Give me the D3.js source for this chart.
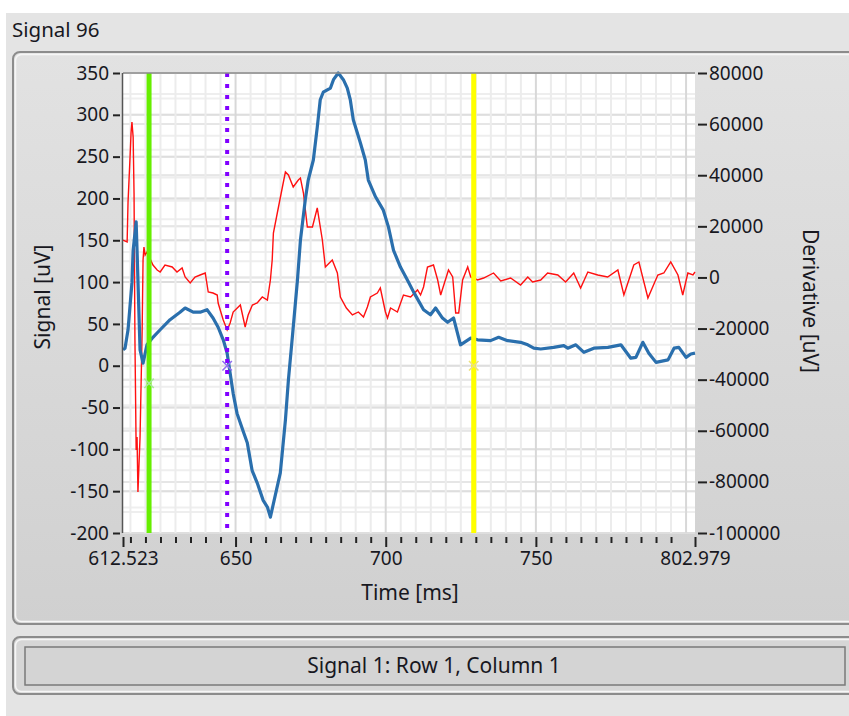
<!DOCTYPE html>
<html>
<head>
<meta charset="utf-8">
<script src="https://cdn.jsdelivr.net/npm/d3@7"></script>
<style>
  body { margin: 0; background: #fff; }
  text { font-family: "Noto Sans", sans-serif; fill: #18181f; }
</style>
</head>
<body>
<svg id="chartSVG" width="849" height="716"></svg>
<script>
// signal trace (blue), left axis
const signalTime = [612.523, 613.2, 614.2, 615.5, 615.9, 616.9, 617.2, 618.2, 619.2, 620.5, 622.5, 624.9, 628.2,
  631.5, 633.2, 635.9, 638.2, 640.5, 642.5, 644.2, 645.9, 647.2, 648.2, 649.2, 650.5, 652.6, 653.9, 655.5,
  657.2, 659.2, 660.6, 661.6, 664.9, 666.6, 667.6, 668.9, 670.6, 671.6, 673.2, 674.2, 675.9, 677.2, 678.2,
  679.2, 681.6, 682.6, 684.2, 685.9, 687.2, 688.2, 689.2, 691.6, 693.2, 694.2, 696.6, 699.2, 700.9, 702.6,
  704.9, 707.3, 709.3, 712.6, 714.9, 716.6, 718.9, 720.6, 722.6, 724.9, 728.3, 730.6, 734.9, 737.6, 740.6,
  744.9, 747.3, 749.3, 751.6, 755.9, 759.3, 760.6, 763.3, 766.0, 769.3, 774.0, 778.3, 781.6, 783.3, 785.6,
  787.6, 790.0, 794.0, 796.0, 797.6, 800.0, 801.6, 802.979];
const signalValues = [19, 21, 43, 99, 138, 172, 138, 19, 3, 25, 34, 43, 55,
  64, 69, 64, 64, 67, 57, 46, 31, 15, -9, -33, -57, -79, -92, -125,
  -140, -161, -169, -181, -128, -65, -17, 34, 102, 150, 198, 222, 246, 285, 318,
  327, 332, 342, 350, 342, 332, 318, 294, 266, 246, 222, 202, 186, 166, 138,
  118, 102, 88, 67, 61, 69, 57, 52, 57, 25, 33, 31, 30, 34, 30,
  28, 25, 21, 20, 22, 24, 21, 25, 16, 21, 22, 25, 9, 10, 28,
  15, 4, 7, 21, 22, 10, 14, 15];

// derivative trace (red), right axis
const derivTime = [612.523, 613.9, 614.2, 614.9, 615.2, 615.5, 615.9, 616.2, 616.5, 616.9, 617.2, 617.5, 618.2,
  618.9, 619.2, 619.5, 619.9, 620.5, 622.5, 623.9, 624.9, 626.5, 628.9, 630.5, 632.2, 633.2, 634.9, 636.5,
  638.2, 639.9, 640.9, 642.5, 643.9, 644.2, 645.9, 647.2, 648.2, 649.2, 651.6, 653.2, 654.2, 655.6, 657.2,
  658.9, 660.6, 661.6, 662.2, 662.6, 663.9, 665.6, 666.6, 667.6, 669.2, 670.9, 671.6, 672.6, 673.9, 675.6,
  677.2, 678.9, 679.9, 682.2, 683.9, 684.9, 686.9, 688.9, 690.9, 692.6, 693.9, 694.9, 697.2, 698.2, 699.9,
  700.6, 701.6, 703.9, 705.9, 708.3, 710.6, 711.6, 712.6, 713.9, 715.9, 717.3, 718.3, 720.9, 722.3, 723.3,
  724.3, 725.6, 727.3, 728.3, 730.6, 732.6, 735.9, 738.3, 741.6, 744.9, 747.3, 748.9, 751.6, 753.9, 757.3,
  759.9, 762.6, 764.9, 767.3, 770.6, 773.9, 777.3, 779.3, 782.6, 784.3, 787.3, 790.6, 792.6, 794.9, 797.3,
  798.9, 800.6, 802.3, 802.979];
const derivativeValues = [14650, 13870, 29520, 47900, 56520, 60830, 54960, 33040, -24480, -67520, -62430, -83950, -62430,
  -20560, 6830, 11910, 8780, 9960, 4870, 2915, 2130, 4870, 4090, 2130, 3700, 180, -2170, 180,
  960, 1740, -5695, -6090, -6870, -10000, -16650, -20560, -17830, -13520, -10780, -19390, -14690, -10780, -10000,
  -7650, -8830, -1000, 6830, 17390, 25220, 35390, 41260, 40090, 35390, 38130, 38910, 33040, 19740, 19740,
  27180, 14650, 4090, 6830, 1740, -7650, -11960, -14690, -13520, -15480, -11560, -7650, -6090, -4130, -13520,
  -15870, -11960, -13520, -6870, -7650, -4910, -6870, -3740, 4090, 4870, -1000, -6870, 2915, 180, -13910,
  -13910, -1000, 4090, 180, -1000, -220, 1740, -1390, -220, -2960, 180, -1780, -1000, 1740, 960,
  -1780, 1740, -4130, 2130, 960, 180, 2915, -6870, 4870, 6045, -8040, 960, 1740, 6045, 960,
  -6870, 1740, 960, 2130];

// cursors
const cursorTimes = [621.2, 647.2, 729.3];
const cursorSignal = [-21, 0, 0];
const cursorColors = ["#66ee00", "#8000ff", "#ffff00"];
const cursorMarkColors = ["#a8e898", "#9070f0", "#ece080"];

// ticks
const leftTicks = d3.range(-200, 351, 50);
const rightTicks = d3.range(-100000, 80001, 20000);
const timeTicks = [612.523, 650, 700, 750, 802.979];
const timeMinorTicks = d3.range(615, 801, 5);

const plot = { left: 123, right: 695, top: 73, bottom: 533 };

const svg = d3.select("#chartSVG");

// gradients
const defs = svg.append("defs");
const grad = defs.append("linearGradient").attr("id", "panelGrad")
  .attr("x1", 0).attr("y1", 0).attr("x2", 0).attr("y2", 1);
grad.append("stop").attr("offset", "0%").attr("stop-color", "#e2e2e2");
grad.append("stop").attr("offset", "100%").attr("stop-color", "#d0d0d0");

// window background
svg.append("rect").attr("x", 6).attr("y", 13).attr("width", 860).attr("height", 720).attr("fill", "#e4e4e4");
svg.append("text").attr("x", 12).attr("y", 37).style("font-size", "20.5px").text("Signal 96");

// graph panel
svg.append("rect").attr("x", 13).attr("y", 52).attr("width", 860).attr("height", 572).attr("rx", 7)
  .attr("fill", "url(#panelGrad)").attr("stroke", "#8c8c8c").attr("stroke-width", 2);
svg.append("rect").attr("x", 15.5).attr("y", 54.5).attr("width", 860).attr("height", 567).attr("rx", 6)
  .attr("fill", "none").attr("stroke", "#f6f6f6").attr("stroke-width", 1.5);

// scales
const x = d3.scaleLinear().domain([612.523, 802.979]).range([plot.left, plot.right]);
const yLeft = d3.scaleLinear().domain([-200, 350]).range([plot.bottom, plot.top]);
const yRight = d3.scaleLinear().domain([-100000, 80000]).range([plot.bottom, plot.top]);

// plot background
svg.append("rect").attr("x", plot.left).attr("y", plot.top)
  .attr("width", plot.right - plot.left).attr("height", plot.bottom - plot.top).attr("fill", "#fff");

// grid
const grid = svg.append("g");
function hLines(values, scale, color) {
  grid.selectAll(null).data(values).enter().append("line")
    .attr("x1", plot.left).attr("x2", plot.right)
    .attr("y1", d => scale(d)).attr("y2", d => scale(d))
    .attr("stroke", color).attr("stroke-width", 2);
}
hLines(d3.range(-100000, 80001, 10000), yRight, "#efefef");
hLines(d3.range(-200, 351, 25), yLeft, "#eeeeee");
hLines(rightTicks, yRight, "#e6e6e6");
hLines(leftTicks, yLeft, "#dedede");
grid.selectAll(null).data(timeMinorTicks).enter().append("line")
  .attr("x1", d => x(d)).attr("x2", d => x(d))
  .attr("y1", plot.top).attr("y2", plot.bottom)
  .attr("stroke", d => (d % 50 === 0 ? "#d8d8d8" : "#ececec")).attr("stroke-width", 2);

// traces
const redLine = d3.line().x((d, i) => x(derivTime[i])).y(d => yRight(d));
svg.append("path").datum(derivativeValues).attr("d", redLine)
  .attr("fill", "none").attr("stroke", "#ff1010").attr("stroke-width", 1.4);

const blueLine = d3.line().x((d, i) => x(signalTime[i])).y(d => yLeft(d));
svg.append("path").datum(signalValues).attr("d", blueLine)
  .attr("fill", "none").attr("stroke", "#2a6fad").attr("stroke-width", 3.2).attr("stroke-linejoin", "round");

// cursors
svg.selectAll(".cursor").data(cursorTimes).enter().append("line")
  .attr("class", "cursor")
  .attr("x1", d => x(d)).attr("x2", d => x(d))
  .attr("y1", plot.top).attr("y2", plot.bottom)
  .attr("stroke", (d, i) => cursorColors[i])
  .attr("stroke-width", (d, i) => (i === 1 ? 4 : 5))
  .attr("stroke-dasharray", (d, i) => (i === 1 ? "4,7" : null));
svg.selectAll(".mark").data(cursorTimes).enter().append("path")
  .attr("class", "mark")
  .attr("d", d3.symbol(d3.symbolX, 60))
  .attr("transform", (d, i) => `translate(${x(d)},${yLeft(cursorSignal[i])})`)
  .attr("fill", "none").attr("stroke", (d, i) => cursorMarkColors[i]).attr("stroke-width", 1.6);

// frame lines of the plot
svg.append("line").attr("x1", plot.left).attr("x2", plot.right).attr("y1", plot.top).attr("y2", plot.top)
  .attr("stroke", "#8a8a8a").attr("stroke-width", 1.5);
svg.append("line").attr("x1", plot.left - 0.5).attr("x2", plot.left - 0.5).attr("y1", plot.top).attr("y2", plot.bottom)
  .attr("stroke", "#555").attr("stroke-width", 1.5);

// axes
function styleAxis(g) {
  g.select(".domain").remove();
  g.selectAll(".tick line").attr("stroke", "#222").attr("stroke-width", 2);
  g.selectAll(".tick text").style("font-size", "19px").attr("fill", "#18181f");
}
svg.append("g").attr("transform", `translate(${plot.left - 3},0)`)
  .call(d3.axisLeft(yLeft).tickValues(leftTicks).tickSize(7).tickPadding(4).tickFormat(d => String(d)))
  .call(styleAxis);
svg.append("g").attr("transform", `translate(${plot.right + 3},0)`)
  .call(d3.axisRight(yRight).tickValues(rightTicks).tickSize(9).tickPadding(2).tickFormat(d => String(d)))
  .call(styleAxis);
svg.append("g").attr("transform", `translate(0,${plot.bottom + 4})`)
  .call(d3.axisBottom(x).tickValues(timeMinorTicks.filter(d => d % 50 !== 0)).tickSize(6).tickFormat(""))
  .call(styleAxis);
svg.append("g").attr("transform", `translate(0,${plot.bottom + 4})`)
  .call(d3.axisBottom(x).tickValues(timeTicks).tickSize(10).tickPadding(5).tickFormat(d => String(d)))
  .call(styleAxis);

// axis titles
svg.append("text").attr("transform", "translate(50,297) rotate(-90)").attr("text-anchor", "middle")
  .style("font-size", "21px").text("Signal [uV]");
svg.append("text").attr("transform", "translate(803,301) rotate(90)").attr("text-anchor", "middle")
  .style("font-size", "21px").text("Derivative [uV]");
svg.append("text").attr("x", 410).attr("y", 600).attr("text-anchor", "middle")
  .style("font-size", "21px").text("Time [ms]");

// status panel
svg.append("rect").attr("x", 13).attr("y", 637).attr("width", 860).attr("height", 57).attr("rx", 7)
  .attr("fill", "#d6d6d6").attr("stroke", "#8c8c8c").attr("stroke-width", 2);
svg.append("rect").attr("x", 15.5).attr("y", 639.5).attr("width", 860).attr("height", 52).attr("rx", 6)
  .attr("fill", "none").attr("stroke", "#f6f6f6").attr("stroke-width", 1.5);
svg.append("rect").attr("x", 25).attr("y", 647).attr("width", 820).attr("height", 38)
  .attr("fill", "#d4d4d4").attr("stroke", "#7a7a7a").attr("stroke-width", 1.5);
svg.append("text").attr("x", 434).attr("y", 673).attr("text-anchor", "middle")
  .style("font-size", "21px").text("Signal 1: Row 1, Column 1");
</script>
</body>
</html>
